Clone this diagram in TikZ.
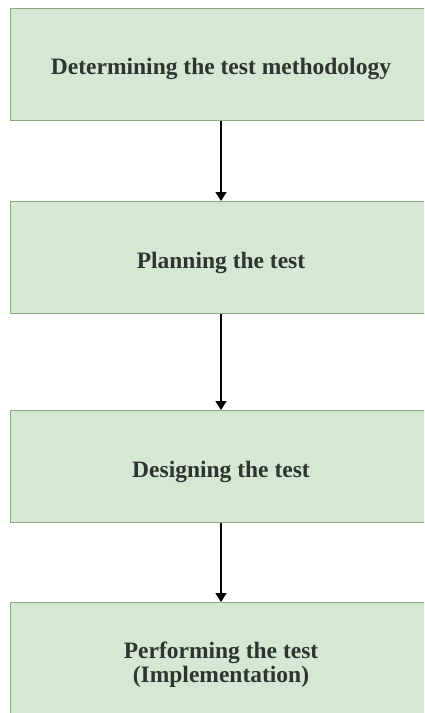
\documentclass[tikz,border=0pt]{standalone}
\usepackage{fontspec}
\setmainfont{Liberation Serif}
\usetikzlibrary{arrows.meta}
\definecolor{boxfill}{HTML}{D5E8D4}
\definecolor{boxline}{HTML}{8DAA80}
\definecolor{txt}{HTML}{2E3530}
\tikzset{
  stepbox/.style={draw=boxline, fill=boxfill, line width=1pt, minimum width=422pt, minimum height=112pt,
    inner sep=0pt, align=center, text=txt, font=\fontsize{23.5}{24}\selectfont\bfseries},
  onebox/.style={stepbox, text height=26pt, text depth=5pt},
  conn/.style={line width=1.6pt, -{Triangle[width=11pt,length=9pt]}}
}
\begin{document}
\begin{tikzpicture}[x=1pt,y=1pt]
\useasboundingbox (0,0) rectangle (424,-713);
\clip (0,0) rectangle (424,-713);
\fill[white] (0,0) rectangle (424,-713);
\node[onebox] (a) at (221,-64) {Determining the test methodology};
\node[onebox] (b) at (221,-257.5) {Planning the test};
\node[onebox] (c) at (221,-466.5) {Designing the test};
\node[stepbox, text height=52pt, text depth=5pt] (d) at (221,-658.5) {Performing the test\\(Implementation)};
\draw[conn] (a) -- (b);
\draw[conn] (b) -- (c);
\draw[conn] (c) -- (d);
\end{tikzpicture}
\end{document}
